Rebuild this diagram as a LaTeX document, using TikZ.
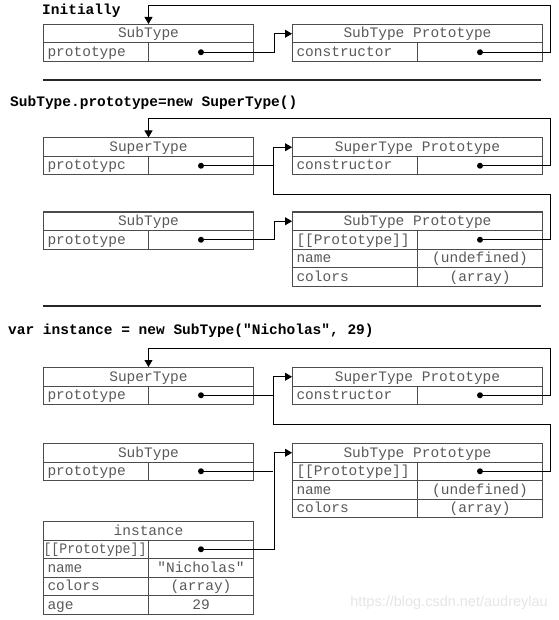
\documentclass[tikz,border=0pt]{standalone}
\usepackage{fontspec}
\usepackage{graphicx}
\setmonofont{Liberation Mono}
\setsansfont{Liberation Sans}
\usetikzlibrary{arrows.meta}

\newcommand{\cellfont}{\fontsize{14.5}{16}\selectfont\ttfamily}

\tikzset{
  cell/.style={draw=black!70, line width=1pt, minimum height=18.5pt, inner sep=0pt,
    text height=10.5pt, text depth=2pt,
    anchor=north west, text=black!65, font=\cellfont},
  hdl/.style={cell, minimum width=210pt},
  hdr/.style={cell, minimum width=250pt},
  keyl/.style={cell, text width=97pt, inner xsep=4pt, align=left},
  keyr/.style={cell, text width=117pt, inner xsep=4pt, align=left},
  vall/.style={cell, minimum width=105pt},
  valr/.style={cell, minimum width=125pt},
  pdot/.style={circle, fill=black, inner sep=0pt, minimum size=6pt},
  heading/.style={anchor=base west, inner sep=0pt, font=\cellfont\bfseries},
  ptr/.style={-{Triangle[length=7pt,width=8pt]}, line width=0.8pt},
  link/.style={line width=0.8pt},
  rule/.style={line width=2pt, black!85},
  wmark/.style={anchor=base east, inner sep=0pt, text=black!10,
    font=\fontsize{14.5}{16}\selectfont\sffamily}
}

\begin{document}
\begin{tikzpicture}[x=1pt,y=-1pt]
    \useasboundingbox (0,0) rectangle (558,620);

    % Initially
    \node[heading] (t1) at (42,15) {Initially};

    \node[hdl] (sub1) at (43,24) {SubType};
    \node[keyl] (sub1k) at (43,42.5) {prototype};
    \node[vall] (sub1v) at (148,42.5) {};

    \node[hdr] (subp1) at (292,24) {SubType Prototype};
    \node[keyr] (subp1k) at (292,42.5) {constructor};
    \node[valr] (subp1v) at (417,42.5) {};

    \node[pdot] (sub1d) at (sub1v) {};
    \node[pdot] (subp1d) at (subp1v) {};

    \coordinate (r1) at (550,5);
    \draw[ptr] (sub1d.center) -- ++(73,0) |- (subp1.west);
    \draw[ptr] (subp1d.center) -| (r1) -| (sub1.north);

    \draw[rule] (43,80) -- (541,80);

    % SubType.prototype = new SuperType()
    \node[heading] (t2) at (10,107) {SubType.prototype=new SuperType()};

    \node[hdl] (sup2) at (43,137.5) {SuperType};
    \node[keyl] (sup2k) at (43,156) {prototypc};
    \node[vall] (sup2v) at (148,156) {};

    \node[hdr] (supp2) at (292,137.5) {SuperType Prototype};
    \node[keyr] (supp2k) at (292,156) {constructor};
    \node[valr] (supp2v) at (417,156) {};

    \node[hdl] (sub2) at (43,211.5) {SubType};
    \node[keyl] (sub2k) at (43,230) {prototype};
    \node[vall] (sub2v) at (148,230) {};

    \node[hdr] (subp2) at (292,211.5) {SubType Prototype};
    \node[keyr] (subp2k) at (292,230) {[[Prototype]]};
    \node[valr] (subp2v) at (417,230) {};
    \node[keyr] (subp2n) at (292,248.5) {name};
    \node[valr] (subp2nv) at (417,248.5) {(undefined)};
    \node[keyr] (subp2c) at (292,267) {colors};
    \node[valr] (subp2cv) at (417,267) {(array)};

    \node[pdot] (sup2d) at (sup2v) {};
    \node[pdot] (supp2d) at (supp2v) {};
    \node[pdot] (sub2d) at (sub2v) {};
    \node[pdot] (subp2d) at (subp2v) {};

    \coordinate (r2) at (550,118);
    \coordinate (q2) at (550,194);
    \coordinate (k2) at (273,194);
    \draw[ptr] (supp2d.center) -| (r2) -| (sup2.north);
    \draw[ptr] (subp2d.center) -| (q2) -- (k2) |- (supp2.west);
    \draw[link] (sup2d.center) -- (sup2d.center -| k2);
    \draw[ptr] (sub2d.center) -- ++(73,0) |- (subp2.west);

    \draw[rule] (43,306) -- (541,306);

    % var instance = new SubType("Nicholas", 29)
    \node[heading] (t3) at (8,334) {var instance = new SubType("Nicholas", 29)};

    \node[hdl] (sup3) at (43,367) {SuperType};
    \node[keyl] (sup3k) at (43,385.5) {prototype};
    \node[vall] (sup3v) at (148,385.5) {};

    \node[hdr] (supp3) at (292,367) {SuperType Prototype};
    \node[keyr] (supp3k) at (292,385.5) {constructor};
    \node[valr] (supp3v) at (417,385.5) {};

    \node[hdl] (sub3) at (43,443) {SubType};
    \node[keyl] (sub3k) at (43,461.5) {prototype};
    \node[vall] (sub3v) at (148,461.5) {};

    \node[hdr] (subp3) at (292,443) {SubType Prototype};
    \node[keyr] (subp3k) at (292,461.5) {[[Prototype]]};
    \node[valr] (subp3v) at (417,461.5) {};
    \node[keyr] (subp3n) at (292,480) {name};
    \node[valr] (subp3nv) at (417,480) {(undefined)};
    \node[keyr] (subp3c) at (292,498.5) {colors};
    \node[valr] (subp3cv) at (417,498.5) {(array)};

    \node[hdl] (inst3) at (43,521) {instance};
    \node[keyl, inner xsep=0pt, text width=105pt] (inst3k) at (43,539.5) {\scalebox{0.91}[1]{[[Prototype]]}};
    \node[vall] (inst3v) at (148,539.5) {};
    \node[keyl] (inst3n) at (43,558) {name};
    \node[vall] (inst3nv) at (148,558) {"Nicholas"};
    \node[keyl] (inst3c) at (43,576.5) {colors};
    \node[vall] (inst3cv) at (148,576.5) {(array)};
    \node[keyl] (inst3a) at (43,595) {age};
    \node[vall] (inst3av) at (148,595) {29};

    \node[pdot] (sup3d) at (sup3v) {};
    \node[pdot] (supp3d) at (supp3v) {};
    \node[pdot] (sub3d) at (sub3v) {};
    \node[pdot] (subp3d) at (subp3v) {};
    \node[pdot] (inst3d) at (inst3v) {};

    \coordinate (r3) at (550,348);
    \coordinate (q3) at (550,424);
    \coordinate (k3) at (273,424);
    \draw[ptr] (supp3d.center) -| (r3) -| (sup3.north);
    \draw[ptr] (subp3d.center) -| (q3) -- (k3) |- (supp3.west);
    \draw[link] (sup3d.center) -- (sup3d.center -| k3);
    \draw[ptr] (inst3d.center) -- ++(73,0) |- (subp3.west);
    \draw[link] (sub3d.center) -- (sub3d.center -| k3);

    \node[wmark] (wm) at (548,606) {https://blog.csdn.net/audreylau};
\end{tikzpicture}
\end{document}
